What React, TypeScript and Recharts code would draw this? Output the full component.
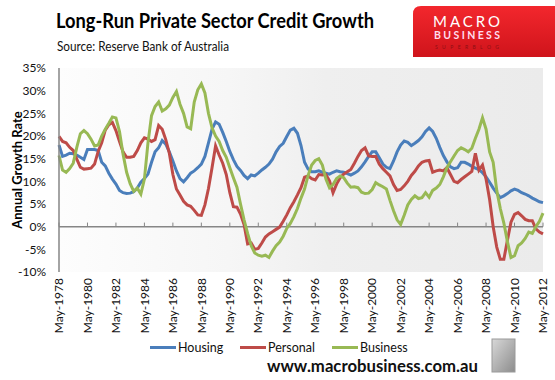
import React from 'react';
import { LineChart, Line, XAxis, YAxis, ReferenceLine, ReferenceArea, Legend } from 'recharts';

// quarterly readings, May 1978 .. May 2012 (annual growth, %)
const quarters = ['May', 'Aug', 'Nov', 'Feb'];

const housing = [
  18, 15.5, 15.8, 16.2, 16.1, 15.8, 15.3, 14.8, 17, 17, 17, 16.8,
  14.2, 13.4, 11.8, 10.5, 9.4, 8, 7.5, 7.3, 7.4, 7.7, 8.5, 9.8,
  10.6, 11.6, 14.2, 16.5, 17.4, 19, 18.2, 16.5, 14.5, 12.3, 10.6, 9.9,
  10.8, 11.8, 12.3, 13, 13.8, 15.5, 18.5, 21.5, 23.1, 22.6, 20.8, 18.8,
  16.6, 14.8, 13.3, 12.4, 11.3, 10.6, 11.4, 11.2, 11.8, 12.5, 13.1, 13.8,
  14.9, 16.5, 17.7, 18.4, 19.9, 21.3, 21.7, 20.6, 17.9, 14.2, 12.7, 12.1,
  12.1, 12.3, 12, 11.8, 11.6, 12, 12.3, 12.1, 12, 11.7, 11.4, 11.8,
  12.3, 13.2, 14.3, 15.5, 16.5, 16.5, 15.2, 13.8, 13.1, 12.8, 14.5, 16.5,
  18, 18.9, 18.6, 17.9, 18.4, 19, 19.8, 21, 21.8, 21, 19.5, 17.5,
  15.7, 14.3, 13.2, 12.8, 13, 14.2, 14.2, 13.8, 13.3, 12.9, 12.6, 11.9,
  11, 9.8, 8.5, 7.4, 6.4, 6.8, 7.3, 7.9, 8.3, 8, 7.5, 7.2,
  6.8, 6.3, 5.9, 5.5, 5.3,
];

const personal = [
  19.9, 18.8, 18.5, 17.5, 16.8, 14.9, 13.1, 12.7, 12.8, 12.9, 13.8, 16.6,
  18.5, 21.3, 22.5, 23, 21.2, 18.8, 16.5, 15.3, 15.3, 15.5, 16.8, 18.5,
  19.6, 19.3, 18.8, 19.2, 22.3, 21.5, 19.2, 16.2, 11.5, 8.3, 7, 5.6,
  4.8, 4.5, 3.6, 2.6, 2.5, 4.8, 8.4, 13, 17.8, 15.8, 14, 11.5,
  7.5, 4.4, 4.3, 2.8, 0.5, -3.8, -3.6, -5, -4.8, -3.6, -2.3, -1.6,
  -1.1, -0.6, -0.1, 1.2, 2.6, 4.2, 5.5, 7, 8.6, 10.9, 11.2, 10.6,
  10.3, 11.5, 11.4, 11.5, 10.1, 7.5, 9.4, 10.8, 11.6, 12.1, 12.6, 14,
  15.5, 16.8, 17.4, 15.6, 15.5, 15.5, 13.8, 12.8, 12, 11.2, 9.3, 8,
  8.2, 9, 10, 11.3, 12.2, 13.4, 14.2, 14.5, 14.6, 12, 12.3, 12.5,
  12.3, 13, 11.5, 10, 9.7, 10.4, 11, 11.6, 12.2, 16.2, 12.5, 13.6,
  10.5, 6, 0, -4.5, -7.2, -7.2, -3, 1, 2.7, 3.1, 2.4, 1.6,
  1.3, 1.3, -0.5, -1.2, -1.6,
];

const business = [
  15.7, 12.5, 12, 12.8, 14, 17.5, 20.5, 21.2, 20.5, 19.3, 17.8, 18,
  20, 21.5, 22.8, 24.2, 24, 21, 16, 12, 9.5, 7.8, 8.5, 7.2,
  10.5, 18.5, 24.5, 26.5, 27.5, 25.5, 26, 26.8, 28.5, 29.8, 27, 25,
  22, 21.6, 27.5, 30.2, 31.5, 29.5, 25, 21.8, 20, 18.8, 16.8, 15.3,
  13, 10.8, 8.7, 5, 1.5, -1.5, -4.2, -5.8, -6.3, -6.5, -6.3, -6.8,
  -5.4, -4.2, -3.4, -2.1, -0.4, 0.7, 2.2, 4, 6.3, 8.3, 11.3, 13.6,
  14.6, 15, 13.6, 10.5, 8.6, 9.3, 10.6, 11.2, 10.8, 9.6, 8.7, 8.8,
  8.6, 7.6, 7.3, 7.4, 8.2, 9.7, 9.2, 8.8, 8.3, 5.8, 3.5, 1.5,
  0.5, 2.5, 4.8, 6, 6.8, 6.2, 6.4, 7.5, 6.5, 8, 8.5, 9.3,
  11, 13, 14.3, 15.6, 16.8, 17.4, 17, 16.5, 17.3, 19.5, 21.5, 24,
  21.5, 16.5, 14.2, 8, 4, 0.8, -3.3, -6.8, -6.4, -4.2, -3.6, -2.6,
  -1.2, -1.5, 0, 1.2, 3,
];

const yTicks = [-10, -5, 0, 5, 10, 15, 20, 25, 30, 35];

const series = [
  { key: 'housing', name: 'Housing', color: '#4a7ebb', width: 90 },
  { key: 'personal', name: 'Personal', color: '#be4b48', width: 92 },
  { key: 'business', name: 'Business', color: '#98b954', width: 80 },
];

const labels = housing.map(
  (_, i) => `${quarters[i % 4]}-${1978 + Math.floor(i / 4) + (i % 4 === 3 ? 1 : 0)}`
);
const data = labels.map((label, i) => ({
  label,
  housing: housing[i],
  personal: personal[i],
  business: business[i],
}));
const tickLabels = labels.filter((_, i) => i % 8 === 0);

const font = 'Lato, "DejaVu Sans", sans-serif';

const XTick = ({ x, y, payload }: any) => (
  <text
    x={x}
    y={y}
    transform={`rotate(-90 ${x} ${y})`}
    textAnchor="end"
    dy="0.35em"
    fontSize={12}
    fill="#111"
    fontFamily={font}
  >
    {payload.value}
  </text>
);

const LegendContent = () => (
  <div style={{ display: 'flex', alignItems: 'center', fontFamily: font, fontSize: 12.5, color: '#111' }}>
    {series.map((s) => (
      <div key={s.key} style={{ display: 'flex', alignItems: 'center', width: s.width }}>
        <span style={{ display: 'inline-block', width: 26, height: 3, background: s.color, marginRight: 2 }} />
        <span>{s.name}</span>
      </div>
    ))}
  </div>
);

export default function App() {
  return (
    <div style={{ position: 'absolute', left: 0, top: 0, width: 555, height: 380, background: '#fff', overflow: 'hidden' }}>
      <LineChart width={555} height={380} data={data} margin={{ top: 68, right: 12, left: 9, bottom: 48 }}>
        <defs>
          <linearGradient id="plotBg" x1="0" y1="0" x2="1" y2="0">
            <stop offset="0%" stopColor="#fdfdfd" />
            <stop offset="35%" stopColor="#f6f6f6" />
            <stop offset="55%" stopColor="#efefef" />
            <stop offset="100%" stopColor="#ebebeb" />
          </linearGradient>
        </defs>
        <XAxis
          dataKey="label"
          interval={7}
          axisLine={false}
          tickLine={false}
          tickSize={4}
          tickMargin={2}
          height={60}
          tick={<XTick />}
        />
        <YAxis
          domain={[-10, 35]}
          ticks={yTicks}
          tickFormatter={(v) => `${v}%`}
          tickLine={false}
          tickMargin={7}
          axisLine={{ stroke: '#868686', strokeWidth: 1.5 }}
          width={50}
          tick={{ fontSize: 12, fill: '#111', fontFamily: font }}
          allowDataOverflow
        />
        <ReferenceArea
          x1={labels[0]}
          x2={labels[labels.length - 1]}
          y1={-10}
          y2={35}
          fill="url(#plotBg)"
          fillOpacity={1}
          stroke="none"
        />
        <ReferenceLine y={0} stroke="#868686" strokeWidth={1.5} />
        {tickLabels.map((l) => (
          <ReferenceLine
            key={l}
            segment={[{ x: l, y: 0 }, { x: l, y: 0.9 }]}
            stroke="#868686"
            strokeWidth={1}
          />
        ))}
        {series.map((s) => (
          <Line
            key={s.key}
            dataKey={s.key}
            name={s.name}
            type="linear"
            stroke={s.color}
            strokeWidth={3}
            dot={false}
            isAnimationActive={false}
          />
        ))}
        <Legend
          layout="horizontal"
          verticalAlign="middle"
          content={<LegendContent />}
          wrapperStyle={{ top: 340, left: 150, width: 270, height: 16 }}
        />
      </LineChart>

      <svg
        width={555}
        height={380}
        style={{ position: 'absolute', left: 0, top: 0, pointerEvents: 'none' }}
      >
        <defs>
          <linearGradient id="logoBg" x1="0" y1="0" x2="0" y2="1">
            <stop offset="0%" stopColor="#f3272d" />
            <stop offset="100%" stopColor="#cf141b" />
          </linearGradient>
          <linearGradient id="wolfBg" x1="0" y1="0" x2="1" y2="1">
            <stop offset="0%" stopColor="#d8d8d8" />
            <stop offset="100%" stopColor="#8c8c8c" />
          </linearGradient>
        </defs>
        <text x={56} y={28} fontFamily={font} fontWeight={700} fontSize={21} fill="#000" textLength={318} lengthAdjust="spacingAndGlyphs">
          Long-Run Private Sector Credit Growth
        </text>
        <text x={57} y={51} fontFamily={font} fontSize={13} fill="#111" textLength={172} lengthAdjust="spacingAndGlyphs">
          Source: Reserve Bank of Australia
        </text>
        <path d="M421 6 H555 V57 H413 V14 Q413 6 421 6 Z" fill="url(#logoBg)" />
        <text x={433} y={27} fontFamily={font} fontSize={15} fill="#fff" textLength={67} lengthAdjust="spacing">
          MACRO
        </text>
        <text x={434} y={39} fontFamily={font} fontWeight={700} fontSize={10.5} fill="#fde" textLength={66} lengthAdjust="spacing">
          BUSINESS
        </text>
        <text x={435} y={49} fontFamily={font} fontSize={5} fill="#8e0f14" textLength={64} lengthAdjust="spacing">
          SUPERBLOG
        </text>
        <text
          x={17}
          y={170}
          transform="rotate(-90 17 170)"
          textAnchor="middle"
          dy="0.35em"
          fontFamily={font}
          fontWeight={700}
          fontSize={13}
          fill="#000"
        >
          Annual Growth Rate
        </text>
        <text x={267} y={372} fontFamily={font} fontWeight={700} fontSize={17} fill="#111" textLength={211} lengthAdjust="spacingAndGlyphs">
          www.macrobusiness.com.au
        </text>
        <rect x={492} y={339} width={23} height={33} fill="url(#wolfBg)" stroke="#9a9a9a" />
      </svg>
    </div>
  );
}
